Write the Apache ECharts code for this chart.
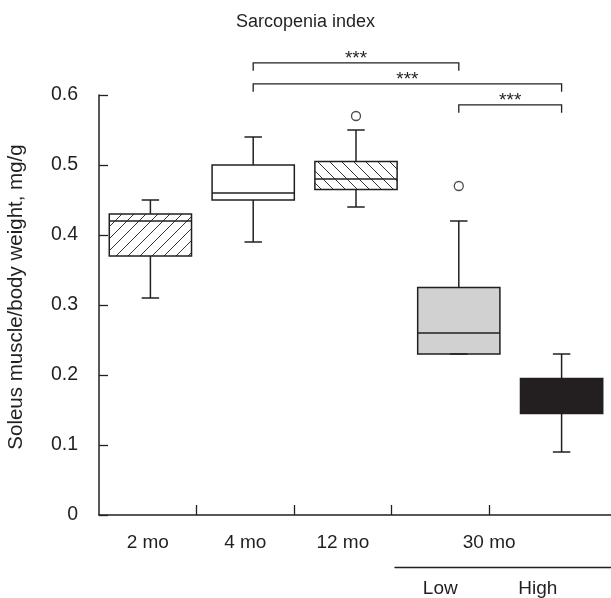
<!DOCTYPE html>
<html>
<head>
<meta charset="utf-8">
<script src="https://cdn.jsdelivr.net/npm/echarts@6/dist/echarts.min.js"></script>
<style>
html, body { margin: 0; padding: 0; background: #fff; }
#main { width: 611px; height: 598px; }
</style>
</head>
<body>
<div id="main"></div>
<script>
// groups on the box axis
var groups = ['2 mo', '4 mo', '12 mo', 'Low', 'High'];
// box statistics per group
var boxMin = [0.31, 0.39, 0.44, 0.23, 0.09];
var boxQ1 = [0.37, 0.45, 0.465, 0.23, 0.145];
var boxMed = [0.42, 0.46, 0.48, 0.26, 0.17];
var boxQ3 = [0.43, 0.50, 0.505, 0.325, 0.195];
var boxMax = [0.45, 0.54, 0.55, 0.42, 0.23];
var outlierGroup = ['12 mo', 'Low'];
var outlierValue = [0.57, 0.47];
// x tick labels
var ageLabels = ['2 mo', '4 mo', '12 mo', '30 mo'];
var subLabels = ['Low', 'High'];
// significance brackets
var sigFrom = ['4 mo', '4 mo', 'Low'];
var sigTo = ['Low', 'High', 'High'];
var sigY = [0.646, 0.616, 0.586];
var sigText = ['***', '***', '***'];

var ink = '#231f20';
var font = 'Liberation Sans, Arial, sans-serif';

function hatch(dir) {
    var c = document.createElement('canvas');
    c.width = 12; c.height = 12;
    var ctx = c.getContext('2d');
    ctx.fillStyle = '#fff';
    ctx.fillRect(0, 0, 12, 12);
    ctx.strokeStyle = '#333';
    ctx.lineWidth = 1;
    ctx.beginPath();
    if (dir > 0) {
        ctx.moveTo(0, 12); ctx.lineTo(12, 0);
        ctx.moveTo(-6, 6); ctx.lineTo(6, -6);
        ctx.moveTo(6, 18); ctx.lineTo(18, 6);
    } else {
        ctx.moveTo(0, 0); ctx.lineTo(12, 12);
        ctx.moveTo(-6, 6); ctx.lineTo(6, 18);
        ctx.moveTo(6, -6); ctx.lineTo(18, 6);
    }
    ctx.stroke();
    return { image: c, repeat: 'repeat' };
}

var boxFill = [hatch(1), '#fff', hatch(-1), '#d1d1d1', ink];

var boxSeriesData = groups.map(function (g, i) {
    return [i, boxMin[i], boxQ1[i], boxMed[i], boxQ3[i], boxMax[i]];
});
var outlierData = outlierGroup.map(function (g, i) {
    return [g, outlierValue[i]];
});
var sigData = sigFrom.map(function (g, i) {
    return [groups.indexOf(g), groups.indexOf(sigTo[i]), sigY[i]];
});

// label axis positions (one unit per label band)
var agePos = [0.5, 1.5, 2.5, 4];
var subPos = [3.5, 4.5];

function renderBox(params, api) {
    var i = api.value(0);
    var lo = api.coord([i, api.value(1)]);
    var q1 = api.coord([i, api.value(2)]);
    var md = api.coord([i, api.value(3)]);
    var q3 = api.coord([i, api.value(4)]);
    var hi = api.coord([i, api.value(5)]);
    var band = api.size([1, 0])[0];
    var w = band * 0.8;
    var cap = band * 0.17;
    var x = lo[0];
    var ls = { stroke: ink, lineWidth: 1.5, fill: null };
    return {
        type: 'group',
        children: [
            { type: 'rect', shape: { x: x - w / 2, y: q3[1], width: w, height: q1[1] - q3[1] },
              style: { fill: boxFill[params.dataIndex], stroke: ink, lineWidth: 1.5 } },
            { type: 'line', shape: { x1: x, y1: hi[1], x2: x, y2: q3[1] }, style: ls },
            { type: 'line', shape: { x1: x, y1: q1[1], x2: x, y2: lo[1] }, style: ls },
            { type: 'line', shape: { x1: x - cap / 2, y1: hi[1], x2: x + cap / 2, y2: hi[1] }, style: ls },
            { type: 'line', shape: { x1: x - cap / 2, y1: lo[1], x2: x + cap / 2, y2: lo[1] }, style: ls },
            { type: 'line', shape: { x1: x - w / 2, y1: md[1], x2: x + w / 2, y2: md[1] }, style: ls }
        ]
    };
}

function renderSig(params, api) {
    var a = api.coord([api.value(0), api.value(2)]);
    var b = api.coord([api.value(1), api.value(2)]);
    return {
        type: 'group',
        children: [
            { type: 'polyline', shape: { points: [[a[0], a[1] + 8], [a[0], a[1]], [b[0], b[1]], [b[0], b[1] + 8]] },
              style: { stroke: ink, lineWidth: 1.3, fill: null } },
            { type: 'text', x: (a[0] + b[0]) / 2, y: a[1] - 4,
              style: { text: sigText[params.dataIndex], align: 'center', verticalAlign: 'middle',
                       font: '19px ' + font, fill: ink } }
        ]
    };
}

var myChart = echarts.init(document.getElementById('main'));
var option = {
    animation: false,
    textStyle: { fontFamily: font, color: ink },
    title: {
        text: 'Sarcopenia index',
        left: 'center',
        top: 8,
        textStyle: { fontSize: 18, fontWeight: 'normal', color: ink, fontFamily: font }
    },
    grid: [
        { left: 99, right: -2, top: 95, bottom: 83, outerBoundsMode: 'none', containLabel: false },
        { left: 395, right: -2, top: 566, bottom: 31, outerBoundsMode: 'none', containLabel: false }
    ],
    xAxis: [
        {
            type: 'category', gridIndex: 0, position: 'bottom', data: groups,
            axisLine: { show: true, lineStyle: { color: ink, width: 1.5 } },
            axisTick: { show: false },
            axisLabel: { show: false },
            splitLine: { show: false }
        },
        {
            type: 'value', gridIndex: 0, position: 'bottom', min: 0, max: 5.27,
            axisLine: { show: false },
            axisTick: { show: true, inside: true, length: 10, customValues: [1, 2, 3, 4],
                        lineStyle: { color: ink, width: 1.3 } },
            axisLabel: {
                customValues: agePos,
                formatter: function (v) { return ageLabels[agePos.indexOf(v)]; },
                fontSize: 19, color: ink, margin: 18
            },
            splitLine: { show: false }
        },
        {
            type: 'value', gridIndex: 1, position: 'bottom', min: 3.036, max: 5.27,
            axisLine: { show: true, onZero: false, lineStyle: { color: ink, width: 1.3 } },
            axisTick: { show: false },
            axisLabel: {
                customValues: subPos,
                formatter: function (v) { return subLabels[subPos.indexOf(v)]; },
                fontSize: 19, color: ink, margin: 12
            },
            splitLine: { show: false }
        }
    ],
    yAxis: [
        {
            type: 'value', gridIndex: 0, min: 0, max: 0.6, interval: 0.1,
            name: 'Soleus muscle/body weight, mg/g',
            nameLocation: 'middle', nameGap: 72,
            nameTextStyle: { fontSize: 20.5, color: ink, padding: [0, 0, 0, 16] },
            axisLine: { show: true, lineStyle: { color: ink, width: 1.5 } },
            axisTick: { show: true, inside: true, length: 9, lineStyle: { color: ink, width: 1.3 } },
            axisLabel: { fontSize: 19.5, color: ink, margin: 21 },
            splitLine: { show: false }
        },
        { type: 'value', gridIndex: 1, show: false, min: 0, max: 1 }
    ],
    series: [
        {
            type: 'custom', xAxisIndex: 0, yAxisIndex: 0,
            renderItem: renderBox,
            encode: { x: 0, y: [1, 2, 3, 4, 5] },
            data: boxSeriesData
        },
        {
            type: 'scatter', xAxisIndex: 0, yAxisIndex: 0,
            symbol: 'circle', symbolSize: 9,
            itemStyle: { color: '#fff', borderColor: ink, borderWidth: 1.3 },
            data: outlierData
        },
        {
            type: 'custom', xAxisIndex: 0, yAxisIndex: 0, clip: false,
            renderItem: renderSig,
            encode: { x: [0, 1], y: 2 },
            data: sigData
        }
    ]
};
myChart.setOption(option);
</script>
</body>
</html>
